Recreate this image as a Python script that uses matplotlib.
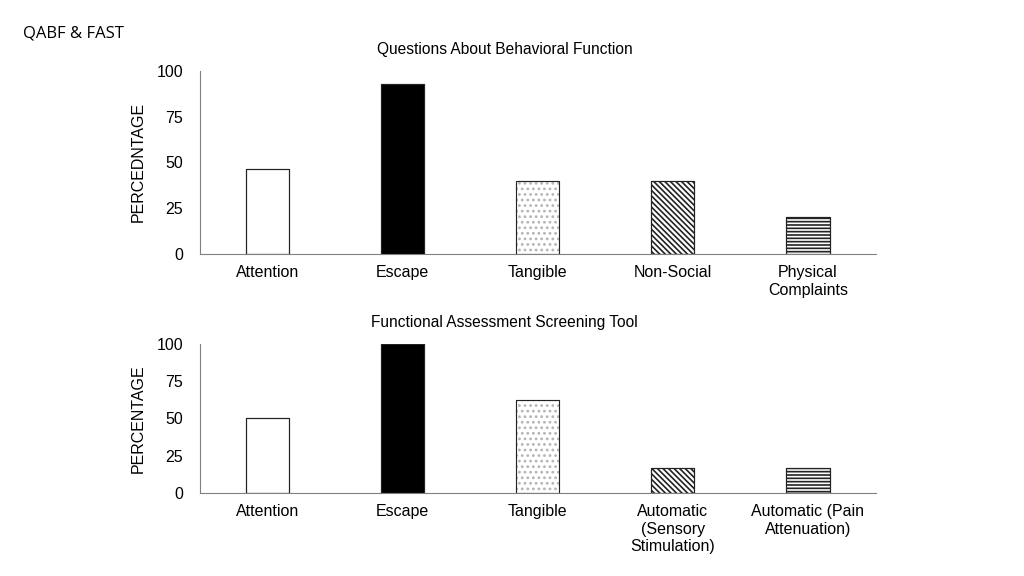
import matplotlib
matplotlib.use("Agg")
import matplotlib.pyplot as plt
import numpy as np

plt.rcParams['font.family'] = ['Liberation Sans', 'DejaVu Sans']

# Questions About Behavioral Function
qabf_cats = ['Attention', 'Escape', 'Tangible', 'Non-Social', 'Physical\nComplaints']
qabf_vals = [46.5, 93, 40, 40, 20]

# Functional Assessment Screening Tool
fast_cats = ['Attention', 'Escape', 'Tangible', 'Automatic\n(Sensory\nStimulation)', 'Automatic (Pain\nAttenuation)']
fast_vals = [50, 100, 62.5, 16.7, 16.7]

fills = ['white', 'black', 'white', 'white', 'white']
hatches = [None, None, '...', '\\' * 6, '-----']
yticks = [0, 25, 50, 75, 100]

plt.rcParams['hatch.linewidth'] = 1.2


def draw(ax, cats, vals, title, ylabel):
    x = np.arange(len(cats))
    bars = ax.bar(x, vals, width=0.32, color=fills, edgecolor='#222222', linewidth=0.8)
    for b, h in zip(bars, hatches):
        if h == '...':
            b.set_hatch(h)
            b.set_edgecolor('#b4b4b4')
        elif h:
            b.set_hatch(h)
    # redraw outlines in dark color
    ax.bar(x, vals, width=0.32, color='none', edgecolor='#222222', linewidth=0.8)
    ax.set_xlim(-0.5, len(cats) - 0.5)
    ax.set_ylim(0, 100)
    ax.set_yticks(yticks)
    ax.set_xticks(x, cats, fontsize=11.5, linespacing=1.2)
    ax.tick_params(axis='y', labelsize=11.5, length=0, pad=12)
    ax.tick_params(axis='x', length=0, pad=8)
    for s in ['top', 'right']:
        ax.spines[s].set_visible(False)
    for s in ['left', 'bottom']:
        ax.spines[s].set_color('#808080')
    ax.set_title(title, fontsize=11.2, pad=12, x=(0.493 - 0.195) / 0.66)
    ax.set_ylabel(ylabel, fontsize=11.5, labelpad=8)


fig = plt.figure(figsize=(10.24, 5.76), dpi=100)
ax1 = fig.add_axes([0.195, 0.559, 0.66, 0.318])
ax2 = fig.add_axes([0.195, 0.144, 0.66, 0.259])

draw(ax1, qabf_cats, qabf_vals, 'Questions About Behavioral Function', 'PERCEDNTAGE')
draw(ax2, fast_cats, fast_vals, 'Functional Assessment Screening Tool', 'PERCENTAGE')

fig.text(0.022, 0.935, 'QABF & FAST', fontsize=12, family=['Open Sans', 'DejaVu Sans'])

plt.savefig('out.png', dpi=100)
plt.close()
